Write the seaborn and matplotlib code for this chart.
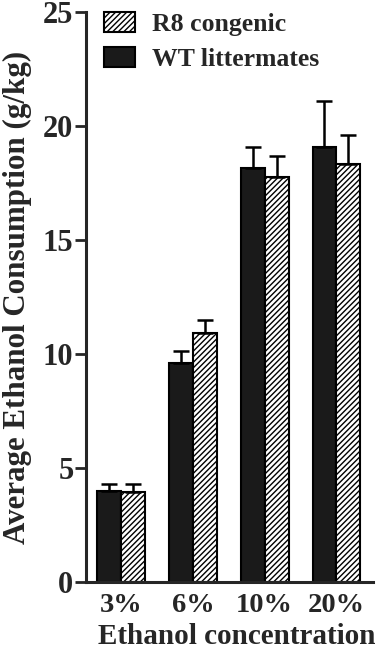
import numpy as np
import pandas as pd
import matplotlib
matplotlib.use("Agg")
import matplotlib.pyplot as plt
import seaborn as sns
from matplotlib.patches import Patch

# Data
concentrations = ["3%", "6%", "10%", "20%"]
groups = ["WT littermates", "R8 congenic"]
wt_mean = [4.0, 9.6, 18.15, 19.1]
wt_sem = [0.3, 0.55, 0.95, 2.0]
r8_mean = [3.97, 10.92, 17.75, 18.35]
r8_sem = [0.33, 0.57, 0.95, 1.25]

df = pd.DataFrame({
    "conc": concentrations * 2,
    "group": [groups[0]] * 4 + [groups[1]] * 4,
    "mean": wt_mean + r8_mean,
    "sem": wt_sem + r8_sem,
})

sns.set_style("ticks")
plt.rcParams["font.family"] = ["Liberation Serif", "DejaVu Serif"]
plt.rcParams["font.weight"] = "bold"
plt.rcParams["hatch.linewidth"] = 1.0

fig = plt.figure(figsize=(3.83, 6.52), dpi=100)
ax = fig.add_axes([0.2245, 0.107, 0.7495, 0.8746])

sns.barplot(data=df, x="conc", y="mean", hue="group", order=concentrations,
            hue_order=groups, palette=["#1a1a1a", "white"], width=0.667,
            edgecolor="black", linewidth=1.5, errorbar=None, legend=False,
            gap=0, ax=ax)

# hatch the R8 bars, add upper error bars
bars = ax.patches
for i, bar in enumerate(bars[:8]):
    g = i // 4
    k = i % 4
    if g == 1:
        bar.set_hatch("//////")
    m = df[(df.group == groups[g]) & (df.conc == concentrations[k])]
    xc = bar.get_x() + bar.get_width() / 2
    ax.errorbar(xc, m["mean"].iloc[0], yerr=[[0], [m["sem"].iloc[0]]],
                fmt="none", ecolor="black", elinewidth=1.8, capsize=6,
                capthick=1.8, zorder=1)

ax.set_ylim(0, 25)
ax.set_yticks([0, 5, 10, 15, 20, 25])
ax.set_xlim(-0.49, 3.51)
sns.despine(ax=ax)
for s in ["left", "bottom"]:
    ax.spines[s].set_linewidth(2.2)
ax.tick_params(axis="y", length=8, width=2, labelsize=22, pad=1)
ax.tick_params(axis="x", length=0, labelsize=20.5, pad=8)
for lab in ax.get_xticklabels() + ax.get_yticklabels():
    lab.set_fontweight("bold")

ax.set_xlabel("Ethanol concentration", fontsize=21, fontweight="bold",
              labelpad=3, x=0.525)
ax.set_ylabel("Average Ethanol Consumption (g/kg)", fontsize=22.3,
              fontweight="bold", labelpad=8)

handles = [Patch(facecolor="white", edgecolor="black", hatch="//////", linewidth=1.5),
           Patch(facecolor="#1a1a1a", edgecolor="black", linewidth=1.5)]
ax.legend(handles, ["R8 congenic", "WT littermates"], loc="upper left",
          bbox_to_anchor=(0.063, 1.0), frameon=False,
          handlelength=1.2, handleheight=0.8, handletextpad=0.65,
          labelspacing=0.45, borderpad=0, borderaxespad=0,
          prop={"weight": "bold", "size": 18.5})

fig.savefig("out.png", dpi=100)
